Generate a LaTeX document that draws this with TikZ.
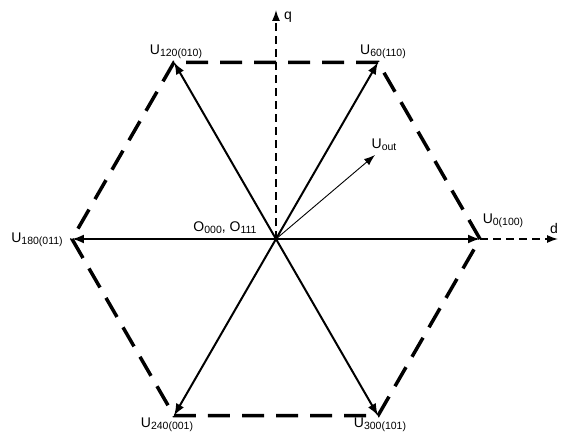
\documentclass[tikz,border=0pt]{standalone}
\usepackage{fontspec}
\setmainfont{Liberation Sans}
\usetikzlibrary{arrows.meta}
\newcommand{\vlab}[2]{#1{\fontsize{10.5}{11}\selectfont\raisebox{-.35ex}{#2}}}
\begin{document}
\begin{tikzpicture}[x=1pt,y=1pt,font=\fontsize{14}{15}\selectfont,
  vec/.style={line width=2pt,-{Latex[length=12pt,width=9pt]}},
  hexline/.style={line width=3.5pt,dash pattern=on 22pt off 12pt},
  axis/.style={line width=1.4pt,dash pattern=on 8pt off 5pt,-{Latex[length=11pt,width=8pt]}}]
\useasboundingbox (-276,-197) rectangle (285,239);
\coordinate (O) at (0,0);
\foreach \a in {0,60,...,300}{\coordinate (v\a) at (\a:204);}
\coordinate (qend) at (0,229);\coordinate (dend) at (282,0);
\coordinate (uout) at (99,84);
% hexagon and axes
\draw[hexline] (v0)--(v60)--(v120)--(v180)--(v240)--(v300)--cycle;
\draw[axis](O)--(qend);\draw[axis](v0)--(dend);
\foreach \a in {0,60,...,300}{\draw[vec](O)--(v\a);}
\draw[line width=.9pt,-{Latex[length=11pt,width=8pt]}](O)--(uout);
% labels
\node (l0) at (227,18){\vlab{U}{0(100)}};
\node (l60) at (107,187){\vlab{U}{60(110)}};
\node (l120) at (-100,187){\vlab{U}{120(010)}};
\node (l180) at (-239,-1){\vlab{U}{180(011)}};
\node (l240) at (-109,-186){\vlab{U}{240(001)}};
\node (l300) at (104,-186){\vlab{U}{300(101)}};
\node (lO) at (-51,11){\vlab{O}{000}, \vlab{O}{111}};
\node (lout) at (108,94){\vlab{U}{out}};
\node (lq) at (12,222){q};\node (ld) at (278,11){d};
\end{tikzpicture}
\end{document}
